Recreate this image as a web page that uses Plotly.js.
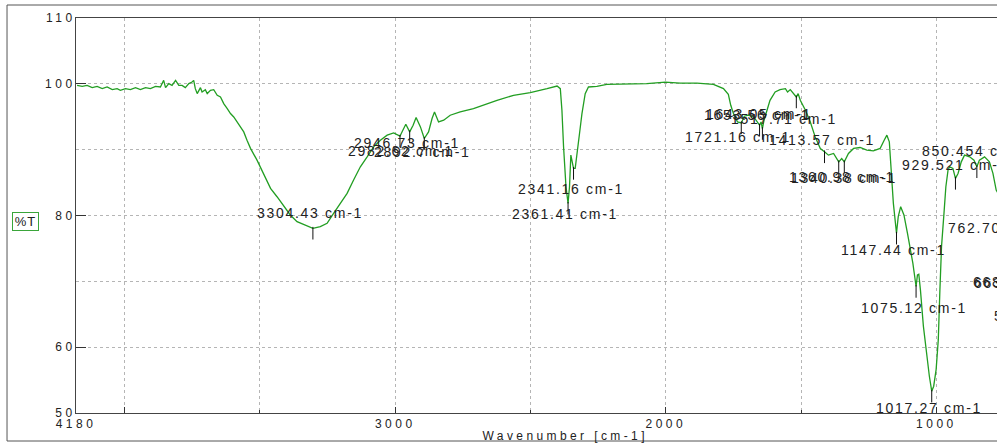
<!DOCTYPE html>
<html>
<head>
<meta charset="utf-8">
<script src="https://cdn.plot.ly/plotly-3.0.1.min.js"></script>
<style>
  html, body { margin: 0; padding: 0; background: #fff; }
  #chart { width: 997px; height: 446px; }
  .xtick text, .ytick text { letter-spacing: 3.5px; }
  .annotation-text { letter-spacing: 1.7px; }
  .annotation[data-index="0"] .annotation-text { letter-spacing: 3.4px; }
  .annotation[data-index="1"] .annotation-text { letter-spacing: 1px; }
</style>
</head>
<body>
<div id="chart"></div>
<script>
// Spectrum: wavenumber (cm-1) and transmittance (%T)
const wavenumber = [
  4176, 4157, 4139, 4120, 4102, 4083, 4065, 4046, 4028, 4016, 3997, 3979, 3960, 3942, 3923, 3905,
  3886, 3868, 3856, 3849, 3837, 3825, 3812, 3800, 3788, 3776, 3763, 3751, 3745, 3739, 3732, 3720,
  3714, 3702, 3695, 3683, 3671, 3658, 3646, 3634, 3621, 3609, 3597, 3585, 3572, 3560, 3548, 3535,
  3511, 3486, 3461, 3437, 3412, 3388, 3363, 3332, 3304.43, 3277, 3252, 3228, 3203, 3178, 3154, 3129,
  3104, 3080, 3055, 3030, 3006, 2982.62, 2972, 2961, 2946.73, 2934, 2923, 2907, 2892.7, 2877, 2864, 2855,
  2840, 2821, 2797, 2760, 2711, 2661, 2624, 2563, 2501, 2439, 2402, 2390, 2384, 2378, 2369, 2361.41,
  2356, 2351, 2341.16, 2335, 2329, 2319, 2310, 2298, 2286, 2255, 2218, 2132, 2070, 2002, 1947, 1885,
  1824, 1787, 1769, 1760, 1750, 1735, 1721.16, 1710, 1695, 1675, 1653.56, 1648, 1643.05, 1637, 1627, 1615,
  1596, 1578, 1558, 1550, 1540, 1517.71, 1511, 1503, 1484, 1466, 1448, 1429, 1413.57, 1399, 1380, 1360.98,
  1350, 1340.38, 1325, 1306, 1282, 1257, 1233, 1208, 1193, 1183, 1174, 1168, 1159, 1147.44, 1141, 1132,
  1120, 1107, 1091, 1087, 1075.12, 1070, 1065, 1059, 1048, 1036, 1026, 1017.27, 1010, 1001, 993, 987,
  981, 972, 965, 957, 951, 939, 929.52, 920, 908, 896, 877, 861, 850.45, 841, 822, 804,
  791, 779, 772
];
const transmittance = [
  99.77, 99.62, 99.77, 99.42, 99.62, 99.27, 99.52, 99.12, 99.27, 99.02, 99.27, 99.12, 99.42, 99.12, 99.42, 99.27,
  99.62, 99.52, 100.53, 99.42, 100.03, 99.77, 100.53, 99.77, 99.77, 99.42, 100.03, 100.27, 100.53, 99.27, 98.52, 99.42,
  98.76, 99.12, 98.52, 99.02, 99.12, 98.26, 98.0, 97.0, 96.24, 95.49, 94.97, 94.21, 93.46, 92.7, 91.44, 90.2,
  88.41, 86.14, 84.12, 82.85, 81.34, 80.08, 79.07, 78.56, 78.06, 78.31, 78.82, 80.33, 81.85, 83.36, 85.38, 87.4,
  88.91, 90.43, 91.44, 92.2, 92.55, 92.05, 92.96, 93.87, 92.7, 93.71, 94.88, 93.46, 91.7, 92.7, 94.73, 95.73,
  94.21, 94.47, 95.23, 95.73, 96.24, 97.0, 97.5, 98.26, 98.67, 99.27, 99.67, 99.27, 95.98, 90.43, 84.37, 81.85,
  84.37, 89.17, 87.15, 87.15, 88.91, 92.45, 95.48, 98.51, 99.52, 99.62, 99.92, 99.92, 100.03, 100.27, 100.12, 100.12,
  99.92, 99.27, 98.4, 96.74, 95.48, 94.21, 94.06, 95.08, 95.23, 94.97, 93.71, 94.21, 93.21, 94.47, 95.98, 97.5,
  98.76, 99.12, 99.27, 98.76, 99.12, 98.0, 98.51, 97.5, 95.98, 94.21, 91.94, 90.18, 89.67, 89.17, 89.42, 88.15,
  88.66, 88.15, 89.42, 90.18, 90.33, 89.93, 89.82, 90.18, 91.44, 92.2, 91.19, 86.9, 81.85, 77.31, 79.83, 81.34,
  80.08, 77.31, 73.77, 72.76, 69.22, 70.99, 71.09, 68.71, 63.16, 58.61, 55.58, 53.31, 54.07, 56.59, 61.14, 68.71,
  75.27, 80.33, 84.37, 86.9, 87.4, 87.15, 85.64, 86.39, 88.15, 89.17, 88.91, 88.41, 87.4, 88.41, 88.91, 88.15,
  86.39, 83.87, 83.36
];

// Picked peaks (marker ticks under each band)
const peakWn = [3304.43, 2982.62, 2946.73, 2892.7, 2361.41, 2341.16, 1721.16, 1653.56, 1643.05,
                1517.71, 1413.57, 1360.98, 1340.38, 1147.44, 1075.12, 1017.27, 929.52, 850.45];
const peakT  = [78.06, 92.05, 92.7, 91.7, 81.85, 87.15, 94.06, 93.71, 93.21,
                98.0, 89.67, 88.15, 88.15, 77.31, 69.22, 53.31, 85.64, 87.4];

// Peak labels: text, anchor wavenumber, anchor %T, horizontal anchor
const labelText = ['3304.43 cm-1', '2946.73 cm-1', '2982.62 cm-1', '2892.7 cm-1', '2341.16 cm-1', '2361.41 cm-1',
                   '1653.56 cm-1', '1643.05 cm-1', '1517.71 cm-1', '1721.16 cm-1', '1413.57 cm-1',
                   '1360.98 cm-1', '1340.38 cm-1', '1147.44 cm-1', '1075.12 cm-1', '1017.27 cm-1',
                   '929.521 cm-1', '850.454 cm-1', '762.70 cm-1', '668.176 cm-1', '663.354 cm-1', '597.952 cm-1'];
const labelWn = [3314, 2957, 2978, 2900, 2352, 2372,
                 1663, 1655, 1563, 1732, 1423,
                 1350, 1343, 1159, 1082, 1026,
                 1134, 1060, 963, 870.6, 867, 795.6];
const labelT = [80.43, 90.94, 89.82, 89.62, 83.97, 80.18,
                95.3, 95.45, 94.73, 91.94, 91.44,
                85.79, 85.7, 74.78, 65.94, 50.79,
                87.65, 89.82, 78.06, 69.83, 69.75, 64.67];
const labelAnchor = ['center', 'center', 'center', 'center', 'center', 'center',
                     'center', 'center', 'center', 'center', 'center',
                     'center', 'center', 'center', 'center', 'center',
                     'left', 'left', 'left', 'left', 'left', 'left'];

const xTickVals = [4180, 4000, 3000, 2000, 1000];
const xTickText = ['4180', '', '3000', '2000', '1000'];
const xMinorVals = [3500, 2500, 1500];
const yTickVals = [50, 60, 80, 100, 110];
const yTickText = ['50', '60', '80', '100', '110'];
const yMinorVals = [70, 90];

const spectrum = {
  type: 'scatter', mode: 'lines',
  x: wavenumber, y: transmittance,
  line: {color: '#229e22', width: 1.3},
  hoverinfo: 'skip'
};
const peakMarks = {
  type: 'scatter', mode: 'markers',
  x: peakWn, y: peakT.map(v => v - 0.75),
  marker: {symbol: 'line-ns', size: 9, line: {color: '#111', width: 1}},
  hoverinfo: 'skip'
};

const annotations = [
  {text: 'Wavenumber [cm-1]', xref: 'paper', yref: 'paper', x: 0.531, y: -0.058,
   xanchor: 'center', yanchor: 'middle', showarrow: false, font: {size: 12, color: '#222'}},
  {text: '%T', xref: 'paper', yref: 'paper', x: -0.0543, y: 0.486,
   xanchor: 'center', yanchor: 'middle', showarrow: false, font: {size: 13, color: '#222'},
   bordercolor: '#3aa53a', borderwidth: 1, borderpad: 1, bgcolor: '#fff'}
];
labelText.forEach((t, i) => {
  annotations.push({
    text: t, x: labelWn[i], y: labelT[i], xref: 'x', yref: 'y',
    xanchor: labelAnchor[i], yanchor: 'middle', align: labelAnchor[i],
    showarrow: false, font: {size: 14, color: '#222'}
  });
});

const layout = {
  width: 997, height: 446,
  margin: {l: 76, r: 0, t: 18, b: 33, pad: 0},
  paper_bgcolor: '#fff', plot_bgcolor: '#fff',
  showlegend: false,
  font: {family: '"Liberation Sans", Arial, sans-serif', color: '#222'},
  xaxis: {
    range: [4180, 776], tickmode: 'array', tickvals: xTickVals, ticktext: xTickText,
    ticks: 'inside', ticklen: 6, tickcolor: '#333', tickwidth: 1,
    showline: true, linecolor: '#444', linewidth: 1, mirror: true,
    showgrid: true, gridcolor: '#b5b5b5', griddash: 'dot', gridwidth: 1,
    zeroline: false, tickfont: {size: 12, color: '#222'},
    minor: {tickmode: 'array', tickvals: xMinorVals, ticks: 'inside', ticklen: 3, tickcolor: '#333',
            showgrid: true, gridcolor: '#b5b5b5', griddash: 'dot', gridwidth: 1}
  },
  yaxis: {
    range: [50, 110], tickmode: 'array', tickvals: yTickVals, ticktext: yTickText,
    ticks: 'inside', ticklen: 10, tickcolor: '#333', tickwidth: 1,
    showline: true, linecolor: '#444', linewidth: 1, mirror: false,
    showgrid: true, gridcolor: '#b5b5b5', griddash: 'dot', gridwidth: 1,
    zeroline: false, tickfont: {size: 12, color: '#222'}, ticklabelstandoff: -3,
    minor: {tickmode: 'array', tickvals: yMinorVals, ticks: '', showgrid: true,
            gridcolor: '#b5b5b5', griddash: 'dot', gridwidth: 1}
  },
  annotations: annotations,
  shapes: [
    {type: 'path', xref: 'paper', yref: 'paper',
     path: 'M 1.001 1.0329 L -0.0749 1.0329 L -0.0749 -0.0709 L 1.001 -0.0709',
     line: {color: '#555', width: 1}}
  ]
};

Plotly.newPlot('chart', [spectrum, peakMarks], layout, {staticPlot: true, displayModeBar: false});
</script>
</body>
</html>
